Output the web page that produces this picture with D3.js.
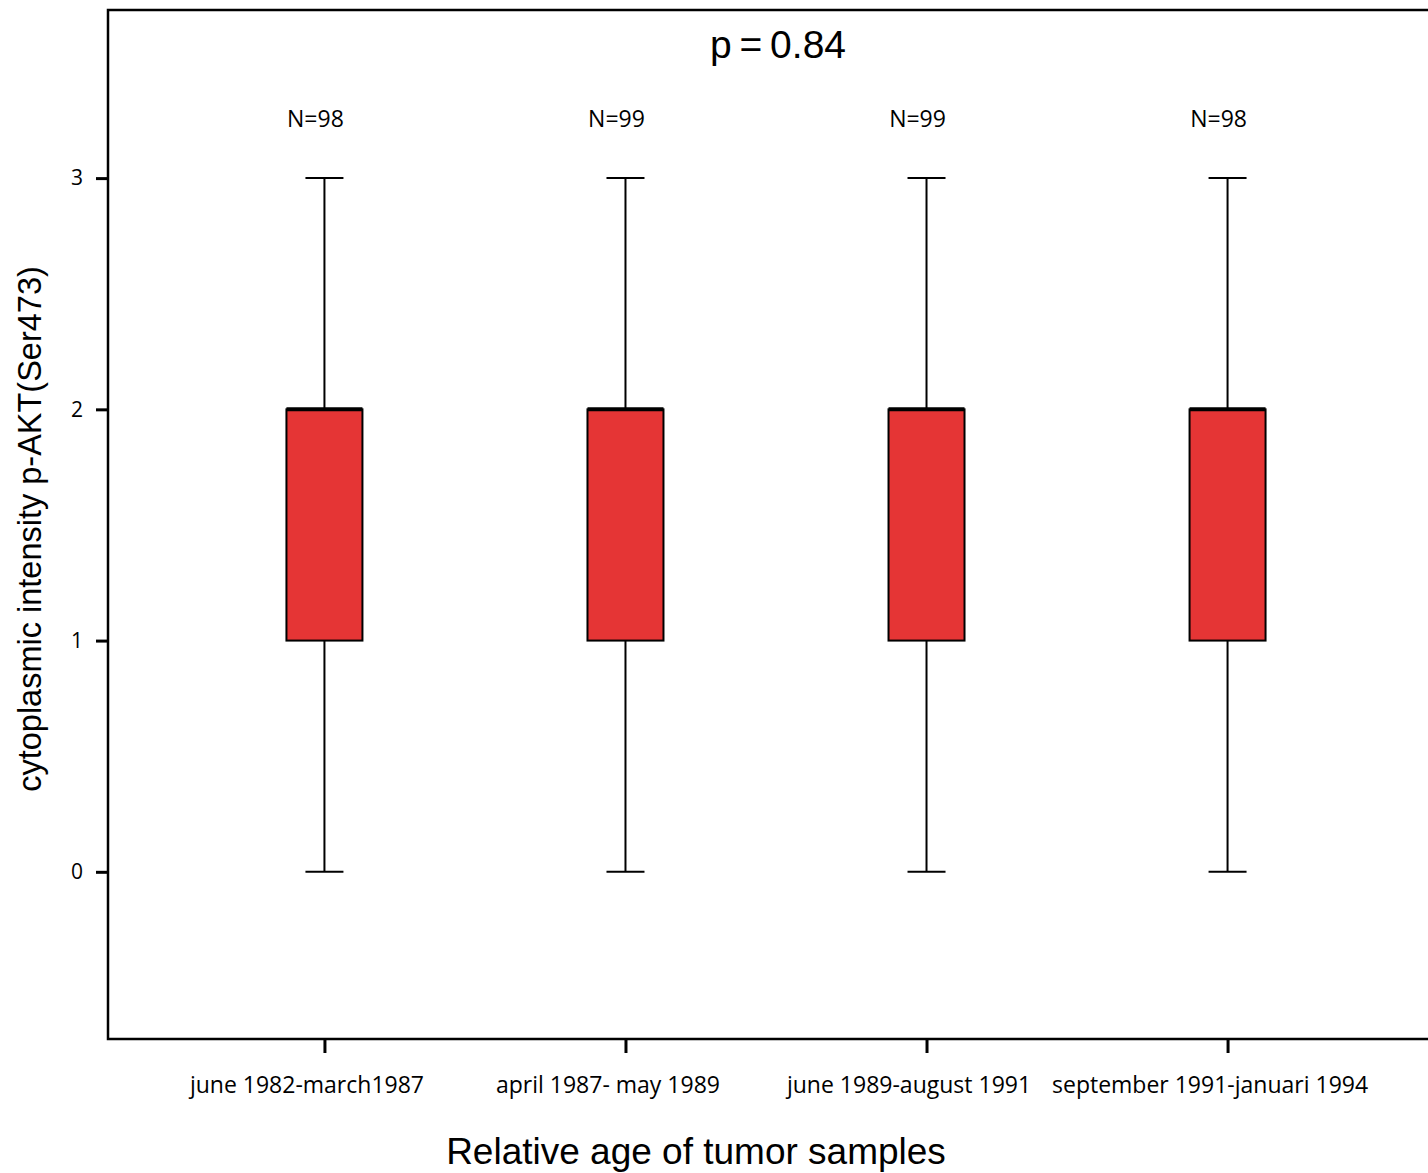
<!DOCTYPE html>
<html>
<head>
<meta charset="utf-8">
<script src="https://d3js.org/d3.v7.min.js"></script>
<style>
  body { margin: 0; background: #fff; }
  svg { display: block; }
</style>
</head>
<body>
<svg id="drawing_region"></svg>
<script>
// data
const categories = ["june 1982-march1987", "april 1987- may 1989", "june 1989-august 1991", "september 1991-januari 1994"];
const counts = [98, 99, 99, 98];
const whiskerLow = [0, 0, 0, 0];
const q1 = [1, 1, 1, 1];
const medians = [2, 2, 2, 2];
const q3 = [2, 2, 2, 2];
const whiskerHigh = [3, 3, 3, 3];
const yTicks = [0, 1, 2, 3];
const pText = "p = 0.84";

const data = categories.map((c, i) => ({
    cat: c, n: counts[i], lo: whiskerLow[i], q1: q1[i],
    med: medians[i], q3: q3[i], hi: whiskerHigh[i]
}));

const config = {
    width: 1428, height: 1173,
    margin: {top: 10, right: -16, bottom: 134, left: 108}
};

const svg = d3.select('#drawing_region')
    .attr('width', config.width)
    .attr('height', config.height);

const inner_width = config.width - config.margin.left - config.margin.right;
const inner_height = config.height - config.margin.top - config.margin.bottom;

const chart = svg.append('g')
    .attr('transform', `translate(${config.margin.left}, ${config.margin.top})`);

const xscale = d3.scalePoint()
    .domain(categories)
    .range([0, inner_width])
    .padding(0.719);

const yscale = d3.scaleLinear()
    .domain([-0.723, 3.727])
    .range([inner_height, 0]);

const labelFont = "'Open Sans', 'Noto Sans', sans-serif";
const titleFont = "'Liberation Sans', Arial, sans-serif";

// axes
const yaxis = d3.axisLeft(yscale).tickValues(yTicks).tickSize(12).tickPadding(13).tickFormat(d3.format('d'));
const yg = chart.append('g').call(yaxis);
yg.select('.domain').remove();
yg.selectAll('line').attr('stroke', '#000').attr('stroke-width', 3);
yg.selectAll('text').attr('font-family', labelFont).attr('font-size', 21).attr('fill', '#000');

const xaxis = d3.axisBottom(xscale).tickSize(14).tickPadding(24);
const xg = chart.append('g')
    .attr('transform', `translate(0, ${inner_height})`)
    .call(xaxis);
xg.select('.domain').remove();
xg.selectAll('line').attr('stroke', '#000').attr('stroke-width', 3);
xg.selectAll('text').attr('font-family', labelFont).attr('font-size', 23).attr('fill', '#000')
    .attr('dx', -18);

// frame: left, top, bottom
chart.append('path')
    .attr('d', `M${inner_width},0H0V${inner_height}H${inner_width}`)
    .attr('fill', 'none')
    .attr('stroke', '#000')
    .attr('stroke-width', 2.5);

// boxes
const boxW = 76, capW = 38;
const g = chart.selectAll('.box')
    .data(data)
    .enter()
    .append('g')
    .attr('class', 'box')
    .attr('transform', d => `translate(${xscale(d.cat)},0)`);

g.append('line')
    .attr('x1', 0).attr('x2', 0)
    .attr('y1', d => yscale(d.hi)).attr('y2', d => yscale(d.lo))
    .attr('stroke', '#000').attr('stroke-width', 2);

g.append('line')
    .attr('x1', -capW / 2).attr('x2', capW / 2)
    .attr('y1', d => yscale(d.hi)).attr('y2', d => yscale(d.hi))
    .attr('stroke', '#000').attr('stroke-width', 2);
g.append('line')
    .attr('x1', -capW / 2).attr('x2', capW / 2)
    .attr('y1', d => yscale(d.lo)).attr('y2', d => yscale(d.lo))
    .attr('stroke', '#000').attr('stroke-width', 2);

g.append('rect')
    .attr('x', -boxW / 2)
    .attr('width', boxW)
    .attr('y', d => yscale(d.q3))
    .attr('height', d => yscale(d.q1) - yscale(d.q3))
    .attr('fill', '#e53535')
    .attr('stroke', '#000')
    .attr('stroke-width', 2);

g.append('line')
    .attr('x1', -boxW / 2).attr('x2', boxW / 2)
    .attr('y1', d => yscale(d.med)).attr('y2', d => yscale(d.med))
    .attr('stroke', '#000').attr('stroke-width', 4);

g.append('text')
    .attr('x', -9)
    .attr('y', 117)
    .attr('text-anchor', 'middle')
    .attr('font-family', labelFont)
    .attr('font-size', 23)
    .text(d => `N=${d.n}`);

// titles
svg.append('text')
    .attr('x', 778)
    .attr('y', 58)
    .attr('text-anchor', 'middle')
    .attr('font-family', titleFont)
    .attr('font-size', 39)
    .attr('word-spacing', -3)
    .text(pText);

svg.append('text')
    .attr('x', 696)
    .attr('y', 1164)
    .attr('text-anchor', 'middle')
    .attr('font-family', titleFont)
    .attr('font-size', 37)
    .text('Relative age of tumor samples');

svg.append('text')
    .attr('transform', 'translate(41, 529) rotate(-90)')
    .attr('text-anchor', 'middle')
    .attr('font-family', titleFont)
    .attr('font-size', 32.5)
    .text('cytoplasmic intensity p-AKT(Ser473)');
</script>
</body>
</html>
